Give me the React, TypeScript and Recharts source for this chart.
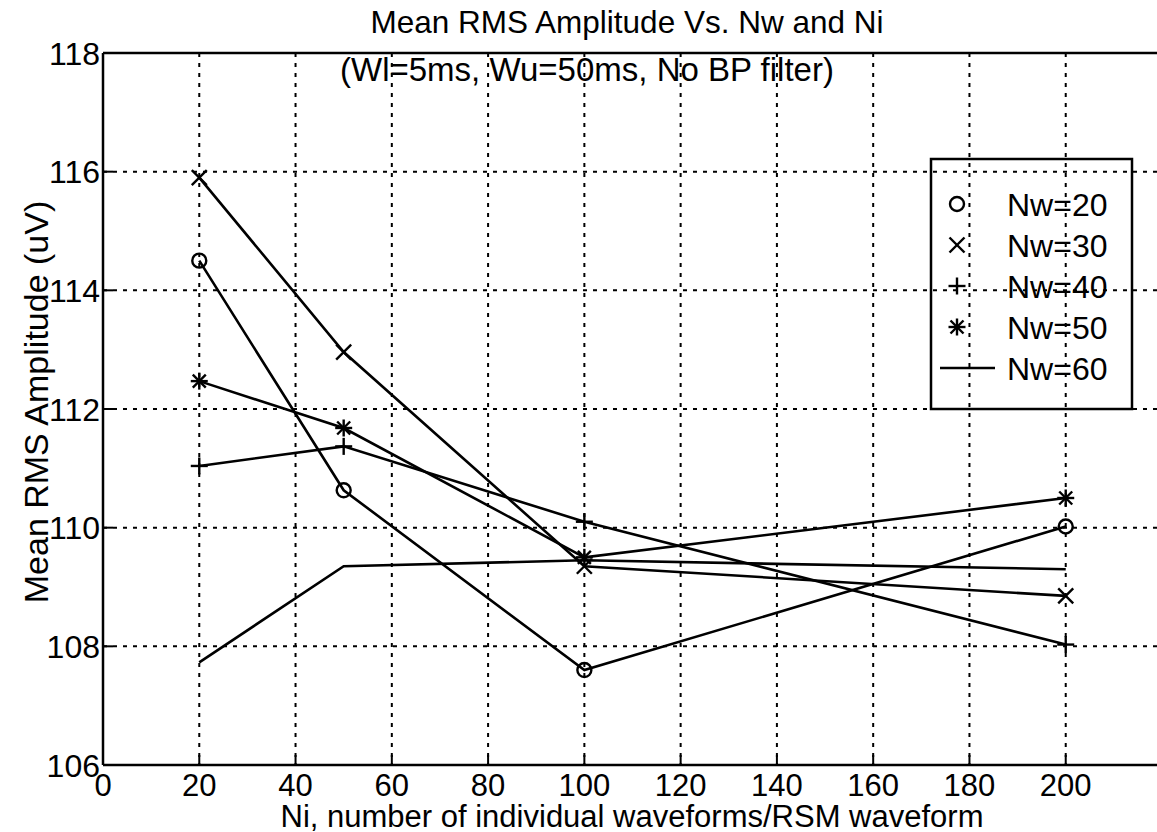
import React from "react";
import { LineChart, Line, XAxis, YAxis, CartesianGrid, ReferenceLine } from "recharts";

// Ni values on the x axis
const niValues = [20, 50, 100, 200];

// mean RMS amplitude (uV) for each Nw
const nw20 = [114.5, 110.63, 107.6, 110.02];
const nw30 = [115.9, 112.96, 109.35, 108.85];
const nw40 = [111.04, 111.37, 110.1, 108.03];
const nw50 = [112.47, 111.68, 109.5, 110.5];
const nw60 = [107.73, 109.35, 109.45, 109.3];

const xTicks = [0, 20, 40, 60, 80, 100, 120, 140, 160, 180, 200];
const yTicks = [106, 108, 110, 112, 114, 116, 118];

const seriesInfo = [
  { key: "nw20", label: "Nw=20", marker: "circle" },
  { key: "nw30", label: "Nw=30", marker: "x" },
  { key: "nw40", label: "Nw=40", marker: "plus" },
  { key: "nw50", label: "Nw=50", marker: "star" },
  { key: "nw60", label: "Nw=60", marker: "none" },
];

const data = niValues.map((ni, i) => ({
  ni,
  nw20: nw20[i],
  nw30: nw30[i],
  nw40: nw40[i],
  nw50: nw50[i],
  nw60: nw60[i],
}));

const FONT = '"Liberation Sans", Arial, Helvetica, sans-serif';
const INK = "#000";
const LINE_W = 2.6;

function Marker({ kind, cx, cy }: { kind: string; cx: number; cy: number }) {
  const sw = 2.4;
  if (kind === "circle") {
    return <circle cx={cx} cy={cy} r={7} fill="none" stroke={INK} strokeWidth={sw} />;
  }
  if (kind === "x") {
    const s = 7.5;
    return (
      <g stroke={INK} strokeWidth={sw}>
        <line x1={cx - s} y1={cy - s} x2={cx + s} y2={cy + s} />
        <line x1={cx - s} y1={cy + s} x2={cx + s} y2={cy - s} />
      </g>
    );
  }
  if (kind === "plus") {
    const s = 8.5;
    return (
      <g stroke={INK} strokeWidth={sw}>
        <line x1={cx - s} y1={cy} x2={cx + s} y2={cy} />
        <line x1={cx} y1={cy - s} x2={cx} y2={cy + s} />
      </g>
    );
  }
  if (kind === "star") {
    const s = 8.5;
    const d = 6.5;
    return (
      <g stroke={INK} strokeWidth={sw}>
        <line x1={cx - s} y1={cy} x2={cx + s} y2={cy} />
        <line x1={cx} y1={cy - s} x2={cx} y2={cy + s} />
        <line x1={cx - d} y1={cy - d} x2={cx + d} y2={cy + d} />
        <line x1={cx - d} y1={cy + d} x2={cx + d} y2={cy - d} />
      </g>
    );
  }
  return null;
}

function dotFor(kind: string) {
  if (kind === "none") return false;
  return (props: any) => (
    <Marker key={`${kind}-${props.index}`} kind={kind} cx={props.cx} cy={props.cy} />
  );
}

function YTick(props: any) {
  const { x, y, payload } = props;
  const axisX = x + 3;
  return (
    <g>
      <line x1={axisX} y1={y} x2={axisX + 10} y2={y} stroke={INK} strokeWidth={2} />
      <text x={x} y={y} dy="0.36em" textAnchor="end" fontSize={32} fontFamily={FONT} fill={INK}>
        {payload.value}
      </text>
    </g>
  );
}

function XTick(props: any) {
  const { x, y, payload } = props;
  const axisY = y - 9;
  return (
    <g>
      <line x1={x} y1={axisY} x2={x} y2={axisY - 10} stroke={INK} strokeWidth={2} />
      <text x={x} y={y} dy="0.71em" textAnchor="middle" fontSize={31} fontFamily={FONT} fill={INK}>
        {payload.value}
      </text>
    </g>
  );
}

function LegendBox() {
  const rows = seriesInfo.map((s, i) => ({ ...s, y: 47 + i * 41 }));
  return (
    <svg
      width={205}
      height={254}
      style={{ position: "absolute", left: 929, top: 157, overflow: "visible" }}
    >
      <rect x={2} y={2} width={201} height={250} fill="none" stroke={INK} strokeWidth={2.5} />
      {rows.map((r) => (
        <g key={r.key}>
          {r.marker === "none" ? (
            <line x1={11} y1={r.y} x2={66} y2={r.y} stroke={INK} strokeWidth={LINE_W} />
          ) : (
            <Marker kind={r.marker} cx={28} cy={r.y} />
          )}
          <text x={78} y={r.y} dy="0.36em" fontSize={32} fontFamily={FONT} fill={INK}>
            {r.label}
          </text>
        </g>
      ))}
    </svg>
  );
}

export default function App() {
  return (
    <div
      style={{
        position: "fixed",
        left: 0,
        top: 0,
        width: 1157,
        height: 832,
        overflow: "hidden",
        background: "#fff",
        fontFamily: FONT,
        color: INK,
      }}
    >
      <LineChart
        width={1175}
        height={832}
        data={data}
        margin={{ top: 53, right: 13, bottom: 27, left: 43 }}
      >
        <CartesianGrid
          stroke={INK}
          strokeWidth={2}
          strokeDasharray="4 6"
          verticalValues={xTicks}
          horizontalValues={yTicks}
        />
        <XAxis
          dataKey="ni"
          type="number"
          domain={[0, 220]}
          ticks={xTicks}
          allowDataOverflow
          height={40}
          tickSize={0}
          tickMargin={9}
          tick={<XTick />}
          axisLine={{ stroke: INK, strokeWidth: 2.5 }}
          interval={0}
        />
        <YAxis
          type="number"
          domain={[106, 118]}
          ticks={yTicks}
          allowDataOverflow
          width={60}
          tickSize={0}
          tickMargin={3}
          tick={<YTick />}
          axisLine={{ stroke: INK, strokeWidth: 2.5 }}
          interval={0}
        />
        <ReferenceLine y={118} stroke={INK} strokeWidth={2.5} />
        {seriesInfo.map((s) => (
          <Line
            key={s.key}
            dataKey={s.key}
            type="linear"
            stroke={INK}
            strokeWidth={LINE_W}
            dot={dotFor(s.marker)}
            activeDot={false}
            isAnimationActive={false}
          />
        ))}
      </LineChart>

      <div
        style={{
          position: "absolute",
          left: 327,
          top: 4,
          width: 600,
          textAlign: "center",
          fontSize: 31.5,
          lineHeight: "36px",
          whiteSpace: "nowrap",
        }}
      >
        Mean RMS Amplitude Vs. Nw and Ni
      </div>
      <div
        style={{
          position: "absolute",
          left: 340,
          top: 52,
          fontSize: 33,
          lineHeight: "36px",
          whiteSpace: "nowrap",
        }}
      >
        (Wl=5ms, Wu=50ms, No BP filter)
      </div>
      <div
        style={{
          position: "absolute",
          left: 232,
          top: 803,
          width: 800,
          textAlign: "center",
          fontSize: 31,
          lineHeight: "28px",
          whiteSpace: "nowrap",
        }}
      >
        Ni, number of individual waveforms/RSM waveform
      </div>
      <div
        style={{
          position: "absolute",
          left: 36,
          top: 402,
          transform: "translate(-50%, -50%) rotate(-90deg)",
          fontSize: 34,
          lineHeight: "38px",
          whiteSpace: "nowrap",
        }}
      >
        Mean RMS Amplitude (uV)
      </div>
      <LegendBox />
    </div>
  );
}
